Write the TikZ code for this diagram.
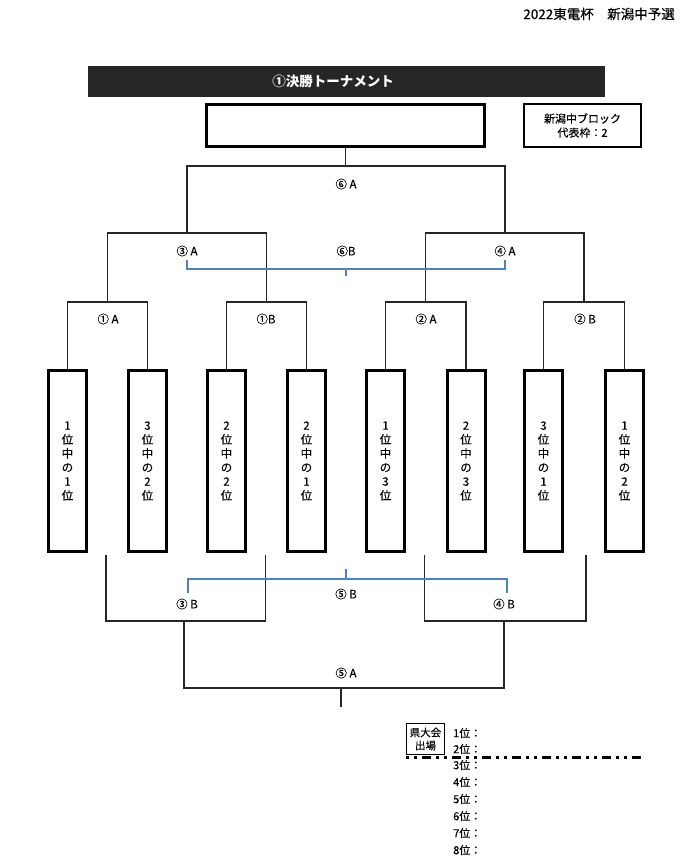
\documentclass[tikz,border=0pt]{standalone}
\usepackage{fontspec}
\setmainfont{Noto Sans CJK JP}[FakeBold=0.25]
\newfontfamily\titlefont{Noto Sans CJK JP}
\definecolor{blueline}{RGB}{79,129,189}
\definecolor{darkbar}{RGB}{38,38,38}
\begin{document}
\begin{tikzpicture}[x=1pt,y=-1pt]
\useasboundingbox (0,0) rectangle (693,867);
\tikzset{
  br/.style={draw=black!85, line width=1.1pt},
  bl/.style={draw=blueline, line width=1.1pt},
  team/.style={draw, line width=3pt, minimum width=38pt, minimum height=181pt, inner sep=0pt, align=center, font=\fontsize{11.5}{14}\selectfont},
  lab/.style={font=\fontsize{11.5}{13}\selectfont, inner sep=0pt},
  rank/.style={font=\fontsize{11}{12}\selectfont, inner sep=0pt, anchor=west},
}
% header
\node[anchor=east, font=\fontsize{13.5}{15}\selectfont, inner sep=0pt] (hdr) at (675,14) {2022東電杯　新潟中予選};
\node[fill=darkbar, minimum width=517pt, minimum height=31pt, inner sep=0pt] (title) at (346.5,81.5) {};
\node[text=white, inner sep=0pt, font=\titlefont\fontsize{13.5}{15}\selectfont\bfseries] (titletext) at (333,81.5) {①決勝トーナメント};
% winner box and block box
\node[draw, line width=3pt, minimum width=278pt, minimum height=42pt, inner sep=0pt] (w) at (345.5,125.5) {};
\node[draw, line width=2pt, minimum width=117pt, minimum height=43pt, inner sep=0pt, align=center, font=\fontsize{11}{14}\selectfont] (blk) at (582.5,125.5) {新潟中ブロック\\代表枠：2};
% team boxes
\node[team] (b1) at (67.5,461) {1\\位\\中\\の\\1\\位};
\node[team] (b2) at (147.5,461) {3\\位\\中\\の\\2\\位};
\node[team] (b3) at (226.5,461) {2\\位\\中\\の\\2\\位};
\node[team] (b4) at (306.5,461) {2\\位\\中\\の\\1\\位};
\node[team] (b5) at (385.5,461) {1\\位\\中\\の\\3\\位};
\node[team] (b6) at (466,461) {2\\位\\中\\の\\3\\位};
\node[team] (b7) at (543.5,461) {3\\位\\中\\の\\1\\位};
\node[team] (b8) at (624.5,461) {1\\位\\中\\の\\2\\位};
% upper bracket
\coordinate (m1) at (107.5,302);
\coordinate (m2) at (266.5,302);
\coordinate (m3) at (425.5,302);
\coordinate (m4) at (584,302);
\coordinate (s1) at (187,233);
\coordinate (s2) at (505,233);
\coordinate (f) at (345.5,166);
\draw[br] (b1.north) |- (m1) -| (b2.north);
\draw[br] (b3.north) |- (m2) -| (b4.north);
\draw[br] (b5.north) |- (m3) -| (b6.north);
\draw[br] (b7.north) |- (m4) -| (b8.north);
\draw[br] (m1) |- (s1) -| (m2);
\draw[br] (m3) |- (s2) -| (m4);
\draw[br] (s1) |- (f) -| (s2);
\draw[br] (f) -- (w.south);
% 6B blue
\coordinate (t6l) at (187,260);
\coordinate (t6m) at (346,269);
\coordinate (t6r) at (505,260);
\coordinate (t6d) at (346,276);
\draw[bl] (t6l) |- (t6m) -| (t6r);
\draw[bl] (t6m) -- (t6d);
% lower bracket
\coordinate (u1) at (106,555);
\coordinate (u2) at (265.5,555);
\coordinate (u3) at (424.5,555);
\coordinate (u4) at (586,555);
\coordinate (v1) at (184,621);
\coordinate (v2) at (504,621);
\coordinate (g) at (341,688);
\coordinate (gend) at (341,707);
\draw[br] (u1) |- (v1) -| (u2);
\draw[br] (u3) |- (v2) -| (u4);
\draw[br] (v1) |- (g) -| (v2);
\draw[br] (g) -- (gend);
% 5B blue
\coordinate (t5l) at (188,593);
\coordinate (t5m) at (346,579);
\coordinate (t5r) at (507,593);
\coordinate (t5u) at (346,569);
\draw[bl] (t5l) |- (t5m) -| (t5r);
\draw[bl] (t5m) -- (t5u);
% labels
\node[lab] (l6a) at (346,184) {⑥ A};
\node[lab] (l3a) at (187,251) {③ A};
\node[lab] (l6b) at (346,251) {⑥B};
\node[lab] (l4a) at (505,251) {④ A};
\node[lab] (l1a) at (108,319) {① A};
\node[lab] (l1b) at (266,319) {①B};
\node[lab] (l2a) at (426,319) {② A};
\node[lab] (l2b) at (585,319) {② B};
\node[lab] (l3b) at (187,604) {③ B};
\node[lab] (l5b) at (346,594) {⑤ B};
\node[lab] (l4b) at (504,604) {④ B};
\node[lab] (l5a) at (346,673) {⑤ A};
% ranking list
\node[draw, line width=1pt, minimum width=38pt, minimum height=31pt, inner sep=0pt, align=center, font=\fontsize{10.5}{13}\selectfont] (ken) at (425.5,739) {県大会\\出場};
\node[rank] (r1) at (453,733) {1位：};
\node[rank] (r2) at (453,749) {2位：};
\node[rank] (r3) at (453,765) {3位：};
\node[rank] (r4) at (453,782) {4位：};
\node[rank] (r5) at (453,799) {5位：};
\node[rank] (r6) at (453,816) {6位：};
\node[rank] (r7) at (453,833) {7位：};
\node[rank] (r8) at (453,850) {8位：};
\coordinate (dl) at (406,757);
\coordinate (dr) at (645,757);
\draw[line width=3pt, dash pattern=on 3pt off 5pt on 3pt off 5pt on 9pt off 5pt] (dl) -- (dr);
\end{tikzpicture}
\end{document}
